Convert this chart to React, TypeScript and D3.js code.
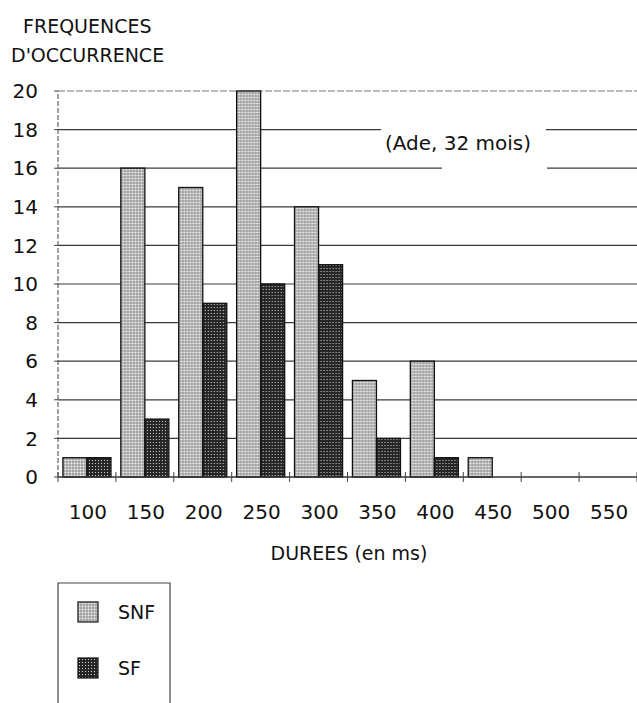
import React, { useEffect, useRef } from 'react';
import * as d3 from 'd3';

// durations (ms) on the x axis
const CATEGORIES = ['100', '150', '200', '250', '300', '350', '400', '450', '500', '550'];
// occurrence counts per duration
const SNF_VALUES = [1, 16, 15, 20, 14, 5, 6, 1, 0, 0];
const SF_VALUES = [1, 3, 9, 10, 11, 2, 1, 0, 0, 0];
const SERIES = ['SNF', 'SF'];
const Y_TICKS = [0, 2, 4, 6, 8, 10, 12, 14, 16, 18, 20];

const FONT = '"DejaVu Sans", Verdana, sans-serif';

const App: React.FC = () => {
  const svgRef = useRef<SVGSVGElement>(null);

  useEffect(() => {
    if (!svgRef.current) return;
    const width = 637;
    const height = 703;
    const margin = { top: 91, right: 0, bottom: 226, left: 58 };

    const svg = d3.select(svgRef.current)
      .attr('width', width)
      .attr('height', height);
    svg.selectAll('*').remove();

    // dotted fills, like the old screen patterns
    const defs = svg.append('defs');
    const light = defs.append('pattern')
      .attr('id', 'pat-snf')
      .attr('patternUnits', 'userSpaceOnUse')
      .attr('width', 3)
      .attr('height', 3);
    light.append('rect').attr('width', 3).attr('height', 3).attr('fill', '#8a8a8a');
    light.append('rect').attr('x', 0.5).attr('y', 0.5).attr('width', 2).attr('height', 2).attr('fill', '#f6f6f6');

    const dark = defs.append('pattern')
      .attr('id', 'pat-sf')
      .attr('patternUnits', 'userSpaceOnUse')
      .attr('width', 3)
      .attr('height', 3);
    dark.append('rect').attr('width', 3).attr('height', 3).attr('fill', '#262626');
    dark.append('rect').attr('x', 1).attr('y', 1).attr('width', 1).attr('height', 1).attr('fill', '#cfcfcf');

    const fills: Record<string, string> = { SNF: 'url(#pat-snf)', SF: 'url(#pat-sf)' };
    const valuesBySeries: Record<string, number[]> = { SNF: SNF_VALUES, SF: SF_VALUES };

    // Scales
    const x0 = d3.scaleBand<string>()
      .domain(CATEGORIES)
      .range([margin.left, width - margin.right])
      .padding(0);
    const pad = x0.bandwidth() * 0.085;
    const x1 = d3.scaleBand<string>()
      .domain(SERIES)
      .range([pad, x0.bandwidth() - pad])
      .padding(0);
    const y = d3.scaleLinear()
      .domain([0, 20])
      .range([height - margin.bottom, margin.top]);

    const g = svg.append('g').attr('font-family', FONT).attr('fill', '#111');

    // Title
    g.append('text').attr('x', 23).attr('y', 33).attr('font-size', 19).text('FREQUENCES');
    g.append('text').attr('x', 11).attr('y', 62).attr('font-size', 19).text("D'OCCURRENCE");

    // Grid lines
    g.append('g')
      .selectAll('line')
      .data(Y_TICKS.filter(d => d > 0))
      .join('line')
      .attr('x1', margin.left)
      .attr('x2', width - margin.right)
      .attr('y1', d => y(d))
      .attr('y2', d => y(d))
      .attr('stroke', d => (d === 20 ? '#777' : '#3a3a3a'))
      .attr('stroke-width', d => (d === 20 ? 1 : 1.2))
      .attr('stroke-dasharray', d => (d === 20 ? '7 2' : null));

    // annotation box (white, hides grid behind)
    g.append('rect')
      .attr('x', 381).attr('y', y(18) - 4)
      .attr('width', 165).attr('height', y(16.6) - y(18) + 4)
      .attr('fill', '#fff');
    g.append('rect')
      .attr('x', 442).attr('y', y(16.6))
      .attr('width', 105).attr('height', y(15.6) - y(16.6))
      .attr('fill', '#fff');
    g.append('text')
      .attr('x', 458).attr('y', y(17.3))
      .attr('dy', '0.35em')
      .attr('text-anchor', 'middle')
      .attr('font-size', 20)
      .text('(Ade, 32 mois)');

    // Y axis
    g.append('line')
      .attr('x1', margin.left).attr('x2', margin.left)
      .attr('y1', y(0)).attr('y2', y(20))
      .attr('stroke', '#444')
      .attr('stroke-dasharray', '5 2');
    g.append('g')
      .selectAll('line')
      .data(Y_TICKS)
      .join('line')
      .attr('x1', margin.left - 4).attr('x2', margin.left)
      .attr('y1', d => y(d)).attr('y2', d => y(d))
      .attr('stroke', '#444');
    g.append('g')
      .selectAll('text')
      .data(Y_TICKS)
      .join('text')
      .attr('x', 38)
      .attr('y', d => y(d))
      .attr('dy', '0.36em')
      .attr('text-anchor', 'end')
      .attr('font-size', 20)
      .text(d => d);

    // Bars
    const groups = g.append('g')
      .selectAll('g')
      .data(CATEGORIES)
      .join('g')
      .attr('transform', d => `translate(${x0(d)},0)`);
    groups.selectAll('rect')
      .data((_, i) => SERIES.map(s => ({ s, v: valuesBySeries[s][i] })).filter(d => d.v > 0))
      .join('rect')
      .attr('x', d => x1(d.s) as number)
      .attr('y', d => y(d.v))
      .attr('width', x1.bandwidth())
      .attr('height', d => y(0) - y(d.v))
      .attr('fill', d => fills[d.s])
      .attr('stroke', '#111')
      .attr('stroke-width', 1.3);

    // X axis
    g.append('line')
      .attr('x1', margin.left).attr('x2', width - margin.right)
      .attr('y1', y(0)).attr('y2', y(0))
      .attr('stroke', '#333')
      .attr('stroke-width', 1.3);
    const tickXs = CATEGORIES.map(c => x0(c) as number).concat([x0.range()[1]]);
    g.append('g')
      .selectAll('line')
      .data(tickXs)
      .join('line')
      .attr('x1', d => d).attr('x2', d => d)
      .attr('y1', y(0) - 5).attr('y2', y(0) + 5)
      .attr('stroke', '#444');
    g.append('g')
      .selectAll('text')
      .data(CATEGORIES)
      .join('text')
      .attr('x', d => (x0(d) as number) + x0.bandwidth() / 2 + 1)
      .attr('y', y(0) + 35)
      .attr('dy', '0.36em')
      .attr('text-anchor', 'middle')
      .attr('font-size', 20)
      .text(d => d);

    g.append('text')
      .attr('x', 349)
      .attr('y', y(0) + 76)
      .attr('dy', '0.36em')
      .attr('text-anchor', 'middle')
      .attr('font-size', 19)
      .text('DUREES (en ms)');

    // Legend
    g.append('path')
      .attr('d', `M${margin.left},${height + 5}V583H170V${height + 5}`)
      .attr('fill', 'none')
      .attr('stroke', '#444')
      .attr('stroke-width', 1.2);
    const legend = g.append('g')
      .selectAll('g')
      .data(SERIES)
      .join('g')
      .attr('transform', (_, i) => `translate(78,${602 + i * 56})`);
    legend.append('rect')
      .attr('width', 20).attr('height', 20)
      .attr('fill', d => fills[d])
      .attr('stroke', '#111')
      .attr('stroke-width', 1.2);
    legend.append('text')
      .attr('x', 40).attr('y', 10)
      .attr('dy', '0.36em')
      .attr('font-size', 19)
      .text(d => d);
  }, []);

  return (
    <div style={{ position: 'absolute', left: 0, top: 0, width: 637, height: 703, background: '#fff' }}>
      <svg ref={svgRef} style={{ display: 'block' }}></svg>
    </div>
  );
};

export default App;
